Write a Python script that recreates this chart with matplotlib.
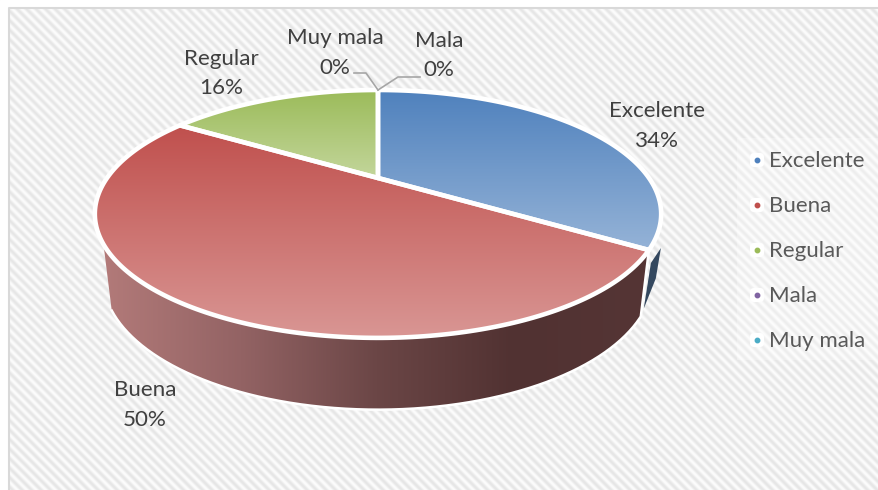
import numpy as np
import matplotlib.pyplot as plt
from matplotlib.colors import LinearSegmentedColormap
from matplotlib.patches import Polygon, Rectangle, FancyBboxPatch

plt.rcParams['font.family'] = ['Lato', 'DejaVu Sans']

categories = ["Excelente", "Buena", "Regular", "Mala", "Muy mala"]
values = [34, 50, 16, 0, 0]
percent_labels = ["34%", "50%", "16%", "0%", "0%"]
marker_colors = ["#4f81bd", "#c0504d", "#9bbb59", "#8064a2", "#4bacc6"]
top_colors = ["#4f81bd", "#c0504d", "#9bbb59"]
bottom_colors = ["#95b3d7", "#d99694", "#c3d69b"]

W, H = 879, 490
CX, CY = 378, 178
K = 271
C = 0.29
A = -61.9


# circle seen in perspective, angle in degrees clockwise from the top
def rim(t):
    t = np.radians(t)
    w = 1 + C * np.cos(t)
    return CX + K * np.sin(t) / w, (A * np.cos(t) + CY) / w


def rim_low(t):
    x, y = rim(t)
    return CX + 0.97 * (x - CX), 1.06 * y + 51.5


def gradient(ax, patch, colors, horizontal=False):
    ax.add_patch(patch)
    x0, y0 = patch.get_xy().min(axis=0)
    x1, y1 = patch.get_xy().max(axis=0)
    cmap = LinearSegmentedColormap.from_list("g", colors)
    g = np.linspace(0, 1, 256)
    g = g.reshape(1, -1) if horizontal else g.reshape(-1, 1)
    im = ax.imshow(g, cmap=cmap, extent=(x0, x1, y1, y0), aspect="auto", zorder=patch.get_zorder())
    im.set_clip_path(patch)


fig = plt.figure(figsize=(W / 100, H / 100), dpi=100)
ax = fig.add_axes([0, 0, 1, 1])
ax.axis("off")

# striped background, open on the right and at the bottom
yy, xx = np.mgrid[0:H, 0:W]
stripes = 0.5 + 0.5 * np.sin(2 * np.pi * (xx - yy) / 9.5)
ax.imshow(stripes, cmap=LinearSegmentedColormap.from_list("s", ["#e6e6e6", "#fcfcfc"]),
          extent=(0, W, H, 0), aspect="auto", zorder=0)
ax.add_patch(Rectangle((0, 0), W, 7, color="white", zorder=1))
ax.add_patch(Rectangle((0, 0), 8, H, color="white", zorder=1))
ax.plot([9, 9, W], [H, 8, 8], color="#d9d9d9", lw=1.5, zorder=1)

ends = np.cumsum(values) * 3.6
starts = ends - np.array(values) * 3.6

# side walls
t = np.linspace(ends[0], 240, 200)
top_x, top_y = rim(t)
low_x, low_y = rim_low(t)
wall = Polygon(np.r_[np.c_[top_x, top_y], np.c_[low_x, low_y][::-1]], fc="none", ec="none", zorder=2)
gradient(ax, wall, ["#b27a79", "#936364", "#6b4646", "#513232", "#553535"], horizontal=True)
ax.plot(np.r_[low_x[::-1], top_x[0]], np.r_[low_y[::-1], top_y[0]], color="white", lw=1.8, zorder=3)

ex, ey = rim(ends[0])
lx, ly = rim_low(ends[0])
sliver = [(ex + 12, ey - 2), (lx + 15, ly - 38), (lx + 3, ly - 8), (ex + 2, ey + 13)]
ax.add_patch(Polygon(sliver, fc="#34485f", ec="none", zorder=2))

# top faces
for i in range(3):
    t = np.linspace(starts[i], ends[i], 200)
    x, y = rim(t)
    face = Polygon(np.r_[[[CX, CY]], np.c_[x, y]], fc="none", ec="none", zorder=4)
    gradient(ax, face, [top_colors[i], bottom_colors[i]])
    ax.add_patch(Polygon(face.get_xy(), fc="none", ec="white", lw=3.3, joinstyle="round", zorder=5))

# data labels
label_pos = [(657, 111), (145, 390), (221, 59), (439, 41), (335, 38)]
for i, (x, y) in enumerate(label_pos):
    ax.text(x, y, categories[i], color="#404040", fontsize=16.1, ha="center", va="center", zorder=6)
    ax.text(x, y + 29.5, percent_labels[i], color="#404040", fontsize=16.1, ha="center", va="center", zorder=6)

# leader lines for the 0% slices
x0, y0 = rim(0)
ax.plot([x0, 398, 420], [y0, 77, 77], color="#a6a6a6", lw=1.2, zorder=6)
ax.plot([x0, 366, 354], [y0, 73, 73], color="#a6a6a6", lw=1.2, zorder=6)

# legend
ax.add_patch(Rectangle((737, 138), 142, 222, fc="white", alpha=0.3, ec="none", zorder=1))
for i, name in enumerate(categories):
    y = 160 + 45 * i
    ax.add_patch(FancyBboxPatch((750, y - 7), 14, 14, boxstyle="round,pad=0,rounding_size=4",
                                fc="white", ec="none", zorder=2))
    ax.plot([757], [y], "o", ms=3.2, color=marker_colors[i], zorder=3)
    ax.text(769, y + 1, name, color="#595959", fontsize=16, ha="left", va="center", zorder=3)

ax.set_xlim(0, W)
ax.set_ylim(H, 0)
fig.savefig("out.png", dpi=100)
